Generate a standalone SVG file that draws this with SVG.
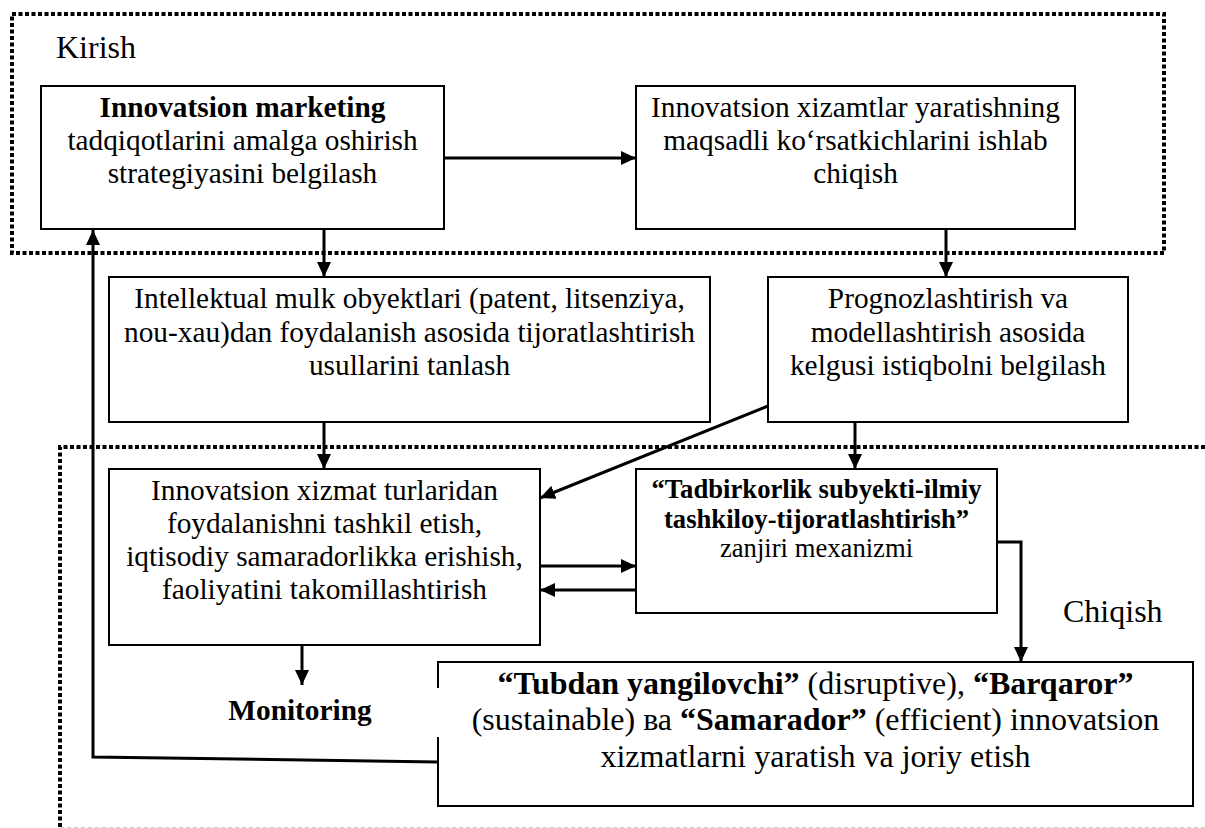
<svg xmlns="http://www.w3.org/2000/svg" width="1205" height="828" viewBox="0 0 1205 828">
<defs>
<marker id="ah" markerUnits="userSpaceOnUse" markerWidth="16" markerHeight="14" refX="15" refY="7" orient="auto">
<path d="M0,0 L15,7 L0,14 z" fill="#000"/>
</marker>
<style>
.t{font-family:"Liberation Serif","Times New Roman",serif;fill:#000}
.n{font-size:29.33px}
.s{font-size:26.67px}
.L{font-size:32px}
.b{font-weight:bold}
.box{fill:#fff;stroke:#000;stroke-width:2}
.dot{fill:none;stroke:#000;stroke-width:4;stroke-dasharray:4 2.5}
.ca{fill:none;stroke:#000;stroke-width:3;marker-end:url(#ah)}
</style>
</defs>
<rect width="1205" height="828" fill="#fff"/>
<g id="regions">
<rect class="dot" x="12" y="14" width="1152" height="239"/>
<path class="dot" d="M60,827 V447 H1205"/>
<path d="M60,827.5 H1205" fill="none" stroke="#d0d0d0" stroke-width="1" stroke-dasharray="4 3"/>
<text class="t L" x="56" y="58">Kirish</text>
<text class="t L" x="1063" y="622">Chiqish</text>
</g>
<g id="connectors">
<path class="ca" d="M444,158 H636"/>
<path class="ca" d="M324,230 V277"/>
<path class="ca" d="M946,230 V277"/>
<path class="ca" d="M324,422 V469"/>
<path class="ca" d="M855,422 V469"/>
<path class="ca" d="M768,406 L540,498"/>
<path class="ca" d="M540,566 H636"/>
<path class="ca" d="M636,590 H540"/>
<path class="ca" d="M997,542 H1021 V662"/>
<path class="ca" d="M302,645 V685"/>
<path class="ca" d="M438,762 L93,757 V230"/>
</g>
<g id="box1">
<rect class="box" x="41" y="86" width="403" height="143"/>
<text class="t n" text-anchor="middle" x="242.5"><tspan class="b" x="242.5" y="117">Innovatsion marketing</tspan><tspan x="242.5" y="150">tadqiqotlarini amalga oshirish</tspan><tspan x="242.5" y="183">strategiyasini belgilash</tspan></text>
</g>
<g id="box2">
<rect class="box" x="636" y="86" width="439" height="143"/>
<text class="t n" text-anchor="middle"><tspan x="855.5" y="117">Innovatsion xizamtlar yaratishning</tspan><tspan x="855.5" y="150">maqsadli ko‘rsatkichlarini ishlab</tspan><tspan x="855.5" y="183">chiqish</tspan></text>
</g>
<g id="box3">
<rect class="box" x="109" y="277" width="601" height="145"/>
<text class="t n" text-anchor="middle"><tspan x="409.5" y="308">Intellektual mulk obyektlari (patent, litsenziya,</tspan><tspan x="409.5" y="342">nou-xau)dan foydalanish asosida tijoratlashtirish</tspan><tspan x="409.5" y="375">usullarini tanlash</tspan></text>
</g>
<g id="box4">
<rect class="box" x="768" y="277" width="360" height="145"/>
<text class="t n" text-anchor="middle"><tspan x="948" y="308">Prognozlashtirish va</tspan><tspan x="948" y="342">modellashtirish asosida</tspan><tspan x="948" y="375">kelgusi istiqbolni belgilash</tspan></text>
</g>
<g id="box5">
<rect class="box" x="109" y="469" width="431" height="176"/>
<text class="t n" text-anchor="middle"><tspan x="324.5" y="500">Innovatsion xizmat turlaridan</tspan><tspan x="324.5" y="533">foydalanishni tashkil etish,</tspan><tspan x="324.5" y="566">iqtisodiy samaradorlikka erishish,</tspan><tspan x="324.5" y="599">faoliyatini takomillashtirish</tspan></text>
</g>
<g id="box6">
<rect class="box" x="636" y="469" width="361" height="144"/>
<text class="t s" text-anchor="middle"><tspan class="b" x="816.5" y="498">“Tadbirkorlik subyekti-ilmiy</tspan><tspan class="b" x="816.5" y="528">tashkiloy-tijoratlashtirish”</tspan><tspan x="816.5" y="557">zanjiri mexanizmi</tspan></text>
</g>
<g id="monitoring">
<text class="t n b" text-anchor="middle" x="300" y="720">Monitoring</text>
</g>
<g id="box7">
<rect x="438" y="662" width="755" height="144" fill="#fff"/>
<path d="M438,688 V662 H1193 V806 H438 V737" fill="none" stroke="#000" stroke-width="2"/>
<text class="t L" text-anchor="middle" x="815.5" y="694"><tspan class="b">“Tubdan yangilovchi”</tspan> (disruptive), <tspan class="b">“Barqaror”</tspan></text>
<text class="t L" text-anchor="middle" x="815.5" y="730">(sustainable) ва <tspan class="b">“Samarador”</tspan> (efficient) innovatsion</text>
<text class="t L" text-anchor="middle" x="815.5" y="767">xizmatlarni yaratish va joriy etish</text>
</g>
</svg>
